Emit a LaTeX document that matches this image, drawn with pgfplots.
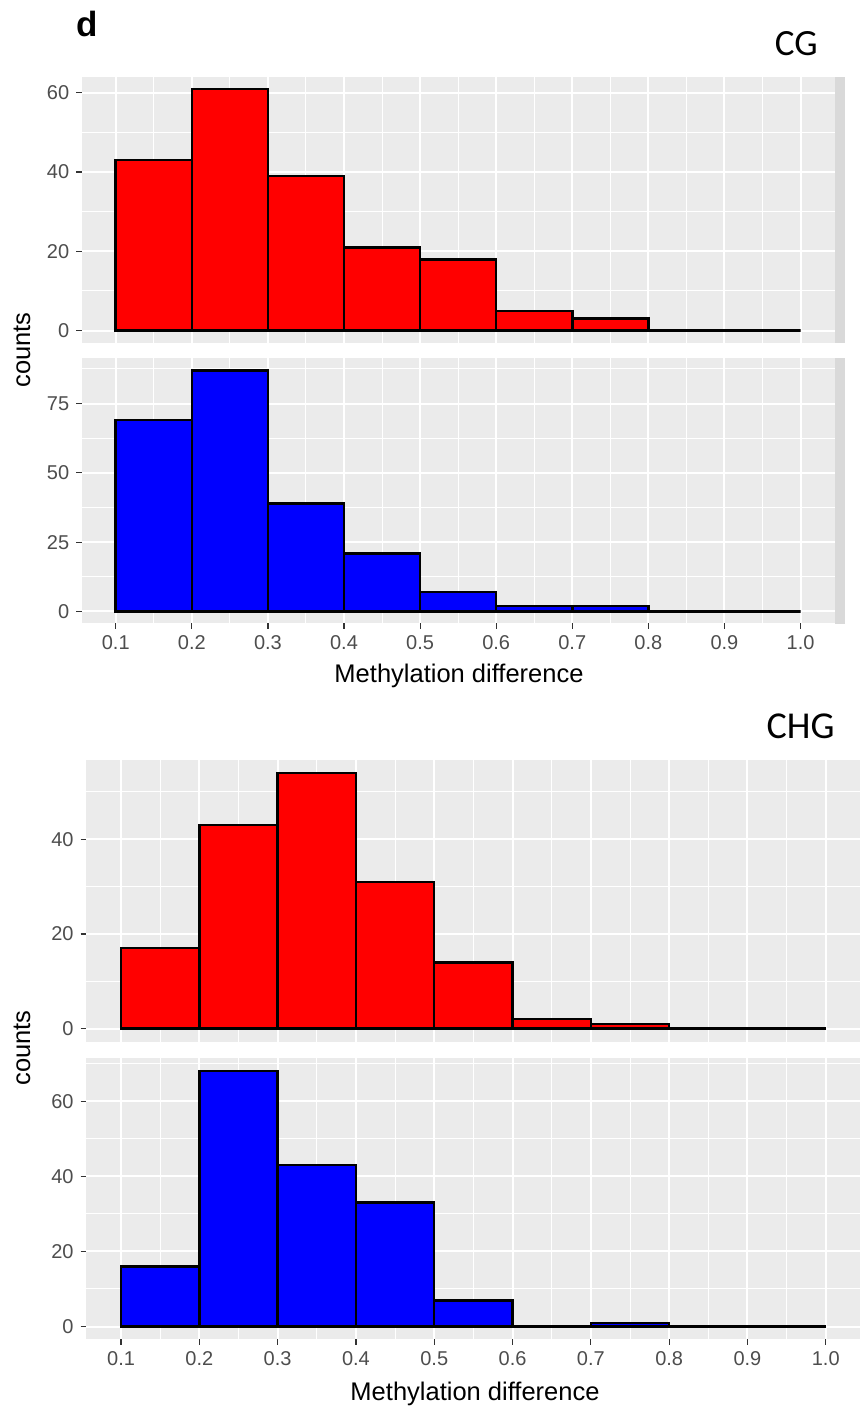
\documentclass[border=0pt]{standalone}
\usepackage{pgfplots}
\pgfplotsset{compat=1.18}
\usepackage{fontspec}
\setmainfont{Liberation Sans}
\newfontfamily\calibri{Carlito}
\definecolor{ggbg}{HTML}{EBEBEB}
\definecolor{stripc}{HTML}{D9D9D9}
\definecolor{labc}{HTML}{4D4D4D}
\definecolor{tickc}{HTML}{333333}
\definecolor{ggred}{HTML}{FF0000}
\definecolor{ggblue}{HTML}{0000FF}
\pgfplotsset{
  ggpanel/.style={
    scale only axis, anchor=north west,
    axis background/.style={fill=ggbg},
    axis line style={draw=none},
    tick pos=left, tick align=outside,
    major tick length=2.6pt, minor tick length=0pt,
    tick style={color=tickc, line width=0.6pt},
    grid=both,
    major grid style={white, line width=1pt},
    minor grid style={white, line width=0.5pt},
    xmin=0.055, xmax=1.045,
    xtick={0.1,0.2,0.3,0.4,0.5,0.6,0.7,0.8,0.9,1.0},
    minor xtick={0.15,0.25,0.35,0.45,0.55,0.65,0.75,0.85,0.95},
    ticklabel style={font=\fontsize{10}{12}\selectfont, text=labc},
    /pgf/number format/assume math mode=true,
    xticklabel style={/pgf/number format/.cd, fixed, fixed zerofill, precision=1, assume math mode=true},
    yticklabel style={/pgf/number format/.cd, fixed, precision=0, assume math mode=true},
  },
  gghide/.style={xticklabels={}, xtick style={draw=none}},
  ggbar/.style={ybar, bar width=0.1, bar shift=0pt, draw=black, line width=1.25pt},
}
\begin{document}
\begin{tikzpicture}
\useasboundingbox (0,0) rectangle (430pt,-705pt);
\clip (0,0) rectangle (430pt,-705pt);

% ---------- CG ----------
\begin{axis}[ggpanel, gghide, at={(40.75pt,-38.35pt)}, width=376.65pt, height=133pt,
  ymin=-3.05, ymax=64.05, ytick={0,20,40,60}, minor ytick={10,30,50}]
\addplot[ggbar, fill=ggred] coordinates {(0.15,43) (0.25,61) (0.35,39) (0.45,21) (0.55,18) (0.65,5) (0.75,3) (0.85,0) (0.95,0)};
\end{axis}
\begin{axis}[ggpanel, at={(40.75pt,-179.15pt)}, width=376.65pt, height=132.6pt,
  ymin=-4.35, ymax=91.35, ytick={0,25,50,75}, minor ytick={12.5,37.5,62.5,87.5}]
\addplot[ggbar, fill=ggblue] coordinates {(0.15,69) (0.25,87) (0.35,39) (0.45,21) (0.55,7) (0.65,2) (0.75,2) (0.85,0) (0.95,0)};
\end{axis}
\fill[stripc] (417.5pt,-38.35pt) rectangle (422.5pt,-171.35pt);
\fill[stripc] (417.5pt,-179.15pt) rectangle (422.5pt,-311.75pt);

\node[anchor=base west, font=\bfseries\fontsize{17.5}{20}\selectfont, inner sep=0pt] at (38pt,-18pt) {d};
\node[anchor=base east, font=\calibri\fontsize{18.5}{21}\selectfont, inner sep=0pt] at (409pt,-27.5pt) {CG};
\node[rotate=90, font=\fontsize{12.75}{15}\selectfont, inner sep=0pt] at (11pt,-175pt) {counts};
\node[anchor=base, font=\fontsize{12.75}{15}\selectfont, inner sep=0pt] at (229.5pt,-341pt) {Methylation difference};

% ---------- CHG ----------
\begin{axis}[ggpanel, gghide, at={(42.9pt,-380pt)}, width=387.6pt, height=140.75pt,
  ymin=-2.7, ymax=56.7, ytick={0,20,40}, minor ytick={10,30,50}]
\addplot[ggbar, fill=ggred] coordinates {(0.15,17) (0.25,43) (0.35,54) (0.45,31) (0.55,14) (0.65,2) (0.75,1) (0.85,0) (0.95,0)};
\end{axis}
\begin{axis}[ggpanel, at={(42.9pt,-529.15pt)}, width=387.6pt, height=140.5pt,
  ymin=-3.4, ymax=71.4, ytick={0,20,40,60}, minor ytick={10,30,50,70}]
\addplot[ggbar, fill=ggblue] coordinates {(0.15,16) (0.25,68) (0.35,43) (0.45,33) (0.55,7) (0.65,0) (0.75,1) (0.85,0) (0.95,0)};
\end{axis}

\node[anchor=base east, font=\calibri\fontsize{19}{21}\selectfont, inner sep=0pt] at (417.5pt,-369.15pt) {CHG};
\node[rotate=90, font=\fontsize{12.75}{15}\selectfont, inner sep=0pt] at (11pt,-524pt) {counts};
\node[anchor=base, font=\fontsize{12.75}{15}\selectfont, inner sep=0pt] at (237.5pt,-700pt) {Methylation difference};
\end{tikzpicture}
\end{document}
